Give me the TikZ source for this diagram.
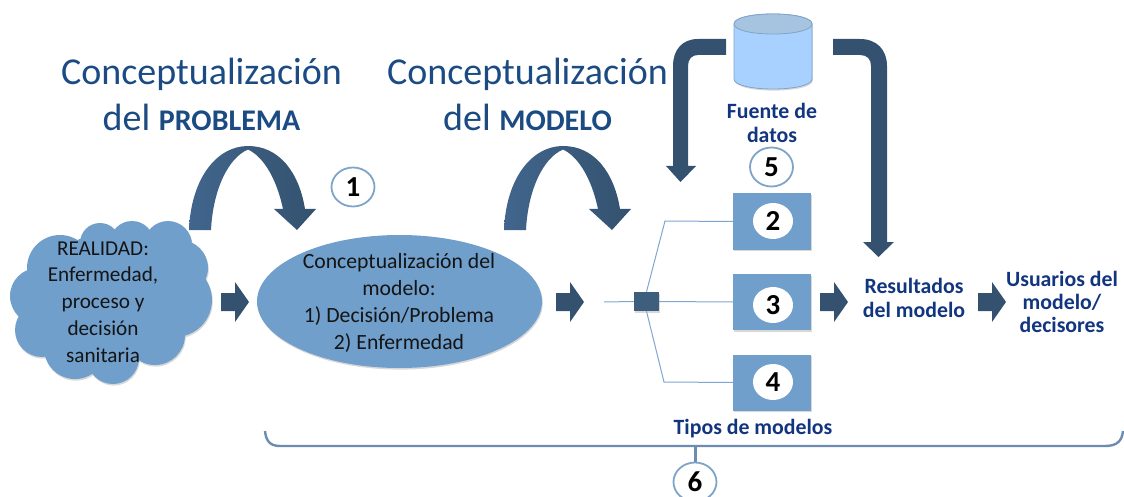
\documentclass[tikz,border=0pt]{standalone}
\usepackage{fontspec}
\setmainfont{Carlito}
\usetikzlibrary{shapes.geometric,shadows}
\definecolor{fillblue}{HTML}{709FCC}
\definecolor{darkarrow}{HTML}{34526F}
\definecolor{midarrow}{HTML}{41658C}
\definecolor{titleblue}{HTML}{1B4B82}
\definecolor{labelblue}{HTML}{12357F}
\definecolor{ringblue}{HTML}{7FA4C9}
\definecolor{linkblue}{HTML}{7FA6D0}
\definecolor{cylblue}{HTML}{A9D1FF}
\definecolor{cyltop}{HTML}{A6C4E0}
\tikzset{
  softshadow/.style={drop shadow={shadow xshift=.8pt,shadow yshift=-1.6pt,opacity=.22,fill=black!70}},
  bluebox/.style={fill=fillblue,minimum width=78pt,minimum height=56pt,inner sep=0pt,softshadow},
  oval/.style={ellipse,fill=white,minimum width=40pt,minimum height=36pt,inner sep=0pt,font=\fontsize{29}{29}\selectfont\bfseries},
  ringed/.style={ellipse,draw=ringblue,line width=1.8pt,fill=white,minimum width=43pt,minimum height=39pt,inner sep=0pt,font=\fontsize{29}{29}\selectfont\bfseries},
  titletext/.style={text=titleblue,inner sep=0pt,font=\fontsize{38}{38}\selectfont},
  bodytext/.style={align=center,inner sep=0pt,text=black!92},
  bluelabel/.style={align=center,inner sep=0pt,text=labelblue,font=\fontsize{21.8}{24.5}\selectfont\bfseries},
  link/.style={draw=linkblue,line width=1pt},
  blockarrow/.pic={\fill[darkarrow] (0,-9) -- (14,-9) -- (14,-20) -- (28,0) -- (14,20) -- (14,9) -- (0,9) -- cycle;},
  curvedarrow/.pic={\shade[left color=midarrow,right color=darkarrow,shading angle=90]
    (189,230) .. controls (191,178) and (217,146) .. (248,146)
    .. controls (279,146) and (299,172) .. (305,209) -- (316,209) -- (297,230) -- (274,209) -- (283,209)
    .. controls (276,176) and (262,156) .. (248,149.5)
    .. controls (228,158) and (213,190) .. (211,230) -- cycle;}
}
\begin{document}
\begin{tikzpicture}[x=1pt,y=-1pt]
\useasboundingbox (0,0) rectangle (1124,497);
% titles
\node[titletext] (t1) at (201.5,74) {Conceptualización};
\node[titletext] (t2) at (201.5,117) {del \fontsize{30}{30}\selectfont\bfseries PROBLEMA};
\node[titletext] (t3) at (527.5,74) {Conceptualización};
\node[titletext] (t4) at (527.5,117) {del \fontsize{30}{30}\selectfont\bfseries MODELO};
% curved arrows
\pic at (0,0) {curvedarrow};
\pic at (315,0) {curvedarrow};
% cloud
\fill[fillblue,softshadow]
  (60,268) circle (33) (38,296) circle (28) (42,330) circle (27) (75,348) circle (31)
  (113,358) circle (26) (155,335) circle (30) (175,300) circle (37) (180,268) circle (28)
  (132,243) circle (22) (168,245) circle (24) (100,243) circle (20) (105,300) circle (66);
\node[bodytext,font=\fontsize{21.2}{26.8}\selectfont] (cloud) at (103,302) {REALIDAD:\\Enfermedad,\\proceso y\\decisión\\sanitaria};
% ellipse
\node[ellipse,fill=fillblue,minimum width=285pt,minimum height=133pt,inner sep=0pt,softshadow] (model) at (399.5,301.5) {};
\node[bodytext,font=\fontsize{21.7}{27}\selectfont] (modeltext) at (399,303) {Conceptualización del\\modelo:\\1) Decisión/Problema\\2) Enfermedad};
% block arrows
\pic at (221,302) {blockarrow};
\pic at (556,302) {blockarrow};
\pic at (820,302) {blockarrow};
\pic at (978,302) {blockarrow};
% model types
\node[bluebox] (b2) at (772,221.5) {};
\node[bluebox] (b3) at (772,302) {};
\node[bluebox] (b4) at (772,382.5) {};
\node[oval] (n2) at (773,221) {2};
\node[oval] (n3) at (773,305) {3};
\node[oval] (n4) at (773,382) {4};
\node[fill=darkarrow!85!fillblue,minimum width=25pt,minimum height=19pt,inner sep=0pt,softshadow] (hub) at (646.5,301.5) {};
\coordinate (in) at (604,302);
\coordinate (e2) at (665,221);
\coordinate (e4) at (664,382);
\draw[link] (in) -- (hub.west);
\draw[link] (hub.east) -- (b3.west);
\draw[link] (hub.north) -- (e2) -- (b2.west);
\draw[link] (hub.south) -- (e4) -- (b4.west);
% cylinder
\path[fill=cylblue,draw=ringblue,line width=.8pt,softshadow] (734,24) -- (734,79) .. controls (734,85) and (751,89) .. (773,89) .. controls (795,89) and (812,85) .. (812,79) -- (812,24) .. controls (812,18) and (795,14) .. (773,14) .. controls (751,14) and (734,18) .. (734,24) -- cycle;
\path[fill=cyltop,draw=ringblue,line width=.8pt] (734,24) .. controls (734,30) and (751,34) .. (773,34) .. controls (795,34) and (812,30) .. (812,24) .. controls (812,18) and (795,14) .. (773,14) .. controls (751,14) and (734,18) .. (734,24) -- cycle;
% bent arrows
\fill[darkarrow] (726,39) -- (698,39) .. controls (682,39) and (673,50) .. (673,66) -- (673,166) -- (666,166) -- (680.5,182) -- (696,166) -- (688,166) -- (688,66) .. controls (688,59) and (692,55) .. (698,55) -- (726,55) -- cycle;
\fill[darkarrow] (833,39) -- (860,39) .. controls (877,39) and (887,50) .. (887,66) -- (887,242) -- (894,242) -- (878.5,257) -- (863,242) -- (871,242) -- (871,66) .. controls (871,59) and (867,55) .. (860,55) -- (833,55) -- cycle;
% labels
\node[bluelabel] (fuente) at (772,123) {Fuente de\\datos};
\node[ringed] (c5) at (771.5,167) {5};
\node[ringed] (c1) at (353,187) {1};
\node[bluelabel] (res) at (914,298) {Resultados\\del modelo};
\node[bluelabel,font=\fontsize{21.8}{23}\selectfont\bfseries] (usr) at (1062,302) {Usuarios del\\modelo/\\decisores};
\node[bluelabel] (tipos) at (753,429) {Tipos de modelos};
% bracket
\node[ringed] (c6) at (695,482) {6};
\coordinate (brace) at (695,446);
\draw[draw=linkblue!85!black,line width=2.4pt] (265,431) .. controls (266,441) and (270,446) .. (280,446) -- (brace) -- (1105,446) .. controls (1117,446) and (1122,441) .. (1123,431);
\draw[draw=linkblue!85!black,line width=3pt] (brace) -- (c6.north);
\end{tikzpicture}
\end{document}
